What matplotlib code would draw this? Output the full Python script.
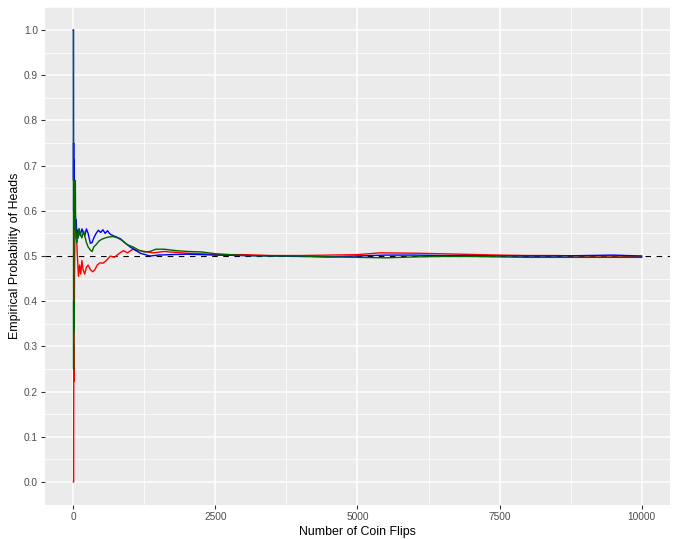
import matplotlib
matplotlib.use("Agg")
import matplotlib.pyplot as plt
from matplotlib.ticker import MultipleLocator

# running proportion of heads, read at selected flip counts
red_n = [1, 2, 3, 4, 5, 6, 7, 8, 9, 10, 11, 12, 13, 14, 15, 16, 18, 20, 25, 30,
         35, 45, 55, 70, 90, 110, 130, 150, 170, 200, 230, 260, 300, 340, 380,
         420, 470, 520, 580, 650, 720, 800, 880, 950, 1050, 1150, 1250, 1400,
         1600, 1800, 2000, 2250, 2500, 3000, 3500, 4000, 4500, 5000, 5400,
         6100, 6800, 7500, 8000, 8500, 9000, 9500, 10000]
red_p = [0.0, 0.0, 0.0, 0.0, 0.0, 0.167, 0.286, 0.25, 0.222, 0.3, 0.273, 0.25,
         0.308, 0.357, 0.4, 0.375, 0.389, 0.45, 0.52, 0.567, 0.571, 0.578,
         0.545, 0.5, 0.455, 0.48, 0.46, 0.49, 0.47, 0.46, 0.475, 0.48, 0.47,
         0.465, 0.47, 0.48, 0.485, 0.484, 0.49, 0.5, 0.497, 0.505, 0.512,
         0.507, 0.515, 0.512, 0.51, 0.507, 0.51, 0.508, 0.506, 0.505, 0.503,
         0.503, 0.501, 0.501, 0.502, 0.503, 0.507, 0.506, 0.504, 0.502, 0.501,
         0.501, 0.5, 0.5, 0.499]

blue_n = [1, 2, 3, 4, 5, 6, 7, 8, 9, 10, 12, 14, 16, 18, 20, 25, 30, 40, 50,
          60, 70, 80, 100, 120, 150, 180, 200, 230, 260, 300, 330, 360, 400,
          440, 480, 520, 560, 600, 650, 700, 760, 830, 900, 1000, 1100, 1180,
          1350, 1500, 1700, 2000, 2250, 2500, 3000, 3500, 4000, 4500, 5000,
          5500, 6000, 6500, 7000, 7500, 8000, 8500, 9000, 9500, 10000]
blue_p = [1.0, 1.0, 0.667, 0.75, 0.6, 0.667, 0.714, 0.625, 0.667, 0.7, 0.667,
          0.643, 0.688, 0.667, 0.65, 0.64, 0.6, 0.575, 0.58, 0.55, 0.557, 0.54,
          0.56, 0.545, 0.56, 0.55, 0.545, 0.56, 0.55, 0.528, 0.53, 0.54, 0.55,
          0.557, 0.552, 0.558, 0.55, 0.556, 0.548, 0.545, 0.542, 0.538, 0.53,
          0.52, 0.512, 0.506, 0.5, 0.502, 0.503, 0.504, 0.503, 0.502, 0.501,
          0.5, 0.499, 0.498, 0.5, 0.502, 0.502, 0.501, 0.501, 0.5, 0.5, 0.5,
          0.501, 0.502, 0.5]

green_n = [1, 2, 3, 4, 5, 6, 7, 8, 9, 10, 12, 14, 16, 18, 20, 25, 30, 35, 40,
           50, 60, 70, 80, 100, 120, 150, 180, 200, 230, 260, 300, 330, 360,
           400, 450, 500, 560, 620, 700, 780, 850, 950, 1050, 1150, 1250,
           1350, 1450, 1600, 1800, 2000, 2250, 2500, 2750, 3000, 3500, 4000,
           4500, 5000, 5500, 6000, 6500, 7000, 7500, 8000, 8500, 9000, 9500,
           10000]
green_p = [1.0, 0.5, 0.333, 0.25, 0.4, 0.333, 0.429, 0.5, 0.556, 0.6, 0.667,
           0.643, 0.625, 0.611, 0.6, 0.56, 0.6, 0.667, 0.575, 0.54, 0.53,
           0.55, 0.54, 0.56, 0.55, 0.54, 0.555, 0.545, 0.53, 0.52, 0.513,
           0.51, 0.52, 0.525, 0.533, 0.537, 0.54, 0.542, 0.543, 0.54, 0.535,
           0.525, 0.52, 0.513, 0.509, 0.51, 0.515, 0.515, 0.512, 0.51, 0.509,
           0.505, 0.503, 0.501, 0.5, 0.5, 0.498, 0.497, 0.496, 0.498, 0.499,
           0.499, 0.498, 0.497, 0.497, 0.497, 0.497, 0.497]

x_ticks = [0, 2500, 5000, 7500, 10000]
y_ticks = [0.0, 0.1, 0.2, 0.3, 0.4, 0.5, 0.6, 0.7, 0.8, 0.9, 1.0]
true_p = 0.5

plt.rcParams["font.family"] = ["Liberation Sans", "DejaVu Sans"]

fig = plt.figure(figsize=(6.74, 5.39), dpi=100)
ax = fig.add_axes([45 / 674, 1 - 504.6 / 539, 625 / 674, 497.2 / 539])
ax.set_facecolor("#EBEBEB")

ax.axhline(true_p, color="black", lw=0.8, ls=(0, (5, 5)), zorder=2)
ax.plot(red_n, red_p, color="red", lw=1.0, zorder=3)
ax.plot(blue_n, blue_p, color="blue", lw=1.0, zorder=3)
ax.plot(green_n, green_p, color="darkgreen", lw=1.0, zorder=3)

ax.set_xlim(1 - 0.05 * 9999, 10000 + 0.05 * 9999)
ax.set_ylim(-0.05, 1.05)
ax.set_xticks(x_ticks)
ax.set_yticks(y_ticks)
ax.set_xticklabels([str(t) for t in x_ticks])
ax.set_yticklabels([f"{t:.1f}" for t in y_ticks])
ax.xaxis.set_minor_locator(MultipleLocator(1250))
ax.yaxis.set_minor_locator(MultipleLocator(0.05))

ax.grid(which="major", color="white", lw=1.1, zorder=0)
ax.grid(which="minor", color="white", lw=0.55, zorder=0)
ax.set_axisbelow(True)
for s in ax.spines.values():
    s.set_visible(False)

ax.tick_params(which="major", length=2.7, width=0.8, color="#333333",
               labelsize=7.3, labelcolor="#4D4D4D", pad=2.5)
ax.tick_params(which="minor", length=0)

ax.set_xlabel("Number of Coin Flips", fontsize=8.9, labelpad=3)
ax.set_ylabel("Empirical Probability of Heads", fontsize=8.9, labelpad=2)

fig.savefig("out.png", dpi=100)
